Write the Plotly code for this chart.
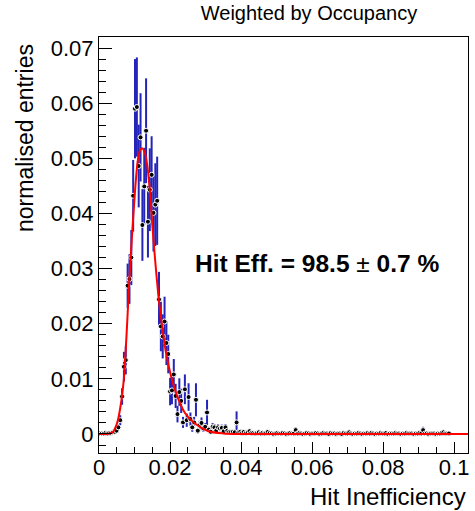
import plotly.graph_objects as go

# ---- data ----
bin_width = 0.00052
n_bins = 200
x_centers = [(k + 0.5) * bin_width for k in range(n_bins)]

values = [
    0.0001, 0.0001, 0.0001, 0.0002, 0.0001, 0.0002, 0.0002, 0.0003, 0.0004, 0.0006,
    0.0012, 0.0025, 0.0068, 0.0122, 0.0134, 0.0269, 0.0281, 0.0320, 0.0432, 0.0590,
    0.0593, 0.0486, 0.0538, 0.0379, 0.0449, 0.0550, 0.0385, 0.0443, 0.0470, 0.0401,
    0.0416, 0.0423, 0.0244, 0.0195, 0.0177, 0.0204, 0.0165, 0.0145, 0.0077, 0.0079,
    0.0108, 0.0069, 0.0036, 0.0076, 0.0060, 0.0021, 0.0081, 0.0025, 0.0067, 0.0027,
    0.0012, 0.0021, 0.0062, 0.0006, 0.0016, 0.0020, 0.0010, 0.0013, 0.0039, 0.0008,
    0.0004, 0.0013, 0.0012, 0.0006, 0.0012, 0.0010, 0.0011, 0.0005, 0.0012, 0.0006,
    0.0004, 0.0004, 0.0004, 0.0003, 0.0021, 0.0003, 0.0004, 0.0002, 0.0004, 0.0002,
    0.0003, 0.0005, 0.0002, 0.0002, 0.0001, 0.0002, 0.0003, 0.0001, 0.0002, 0.0001,
    0.0002, 0.0004, 0.0002, 0.0001, 0.0000, 0.0001, 0.0002, 0.0001, 0.0001, 0.0002,
    0.0001, 0.0000, 0.0001, 0.0002, 0.0001, 0.0001, 0.0007, 0.0001, 0.0002, 0.0001,
    0.0000, 0.0001, 0.0002, 0.0001, 0.0000, 0.0001, 0.0001, 0.0002, 0.0001, 0.0000,
    0.0001, 0.0002, 0.0001, 0.0001, 0.0000, 0.0002, 0.0001, 0.0001, 0.0000, 0.0001,
    0.0001, 0.0000, 0.0002, 0.0001, 0.0001, 0.0003, 0.0001, 0.0000, 0.0001, 0.0001,
    0.0002, 0.0001, 0.0000, 0.0001, 0.0001, 0.0002, 0.0001, 0.0002, 0.0001, 0.0000,
    0.0001, 0.0001, 0.0002, 0.0001, 0.0001, 0.0002, 0.0000, 0.0001, 0.0001, 0.0001,
    0.0002, 0.0001, 0.0001, 0.0000, 0.0001, 0.0001, 0.0002, 0.0001, 0.0001, 0.0001,
    0.0000, 0.0001, 0.0001, 0.0002, 0.0001, 0.0007, 0.0001, 0.0001, 0.0000, 0.0001,
    0.0001, 0.0001, 0.0000, 0.0001, 0.0001, 0.0002, 0.0003, 0.0001, 0.0001, 0.0001,
]

errors = [
    0.0001, 0.0001, 0.0001, 0.0001, 0.0001, 0.0001, 0.0001, 0.0002, 0.0002, 0.0003,
    0.0005, 0.0009, 0.0015, 0.0027, 0.0026, 0.0040, 0.0045, 0.0050, 0.0065, 0.0090,
    0.0090, 0.0075, 0.0080, 0.0065, 0.0070, 0.0095, 0.0065, 0.0075, 0.0070, 0.0070,
    0.0075, 0.0080, 0.0050, 0.0045, 0.0040, 0.0045, 0.0040, 0.0035, 0.0025, 0.0025,
    0.0028, 0.0022, 0.0015, 0.0025, 0.0022, 0.0010, 0.0027, 0.0012, 0.0025, 0.0012,
    0.0008, 0.0010, 0.0030, 0.0005, 0.0008, 0.0010, 0.0006, 0.0007, 0.0023, 0.0005,
    0.0003, 0.0007, 0.0006, 0.0004, 0.0006, 0.0005, 0.0006, 0.0003, 0.0006, 0.0004,
    0.0003, 0.0003, 0.0003, 0.0002, 0.0020, 0.0002, 0.0003, 0.0002, 0.0003, 0.0002,
    0.0002, 0.0003, 0.0002, 0.0002, 0.0001, 0.0002, 0.0002, 0.0001, 0.0002, 0.0001,
    0.0002, 0.0003, 0.0002, 0.0001, 0.0000, 0.0001, 0.0002, 0.0001, 0.0001, 0.0002,
    0.0001, 0.0000, 0.0001, 0.0002, 0.0001, 0.0001, 0.0005, 0.0001, 0.0002, 0.0001,
    0.0000, 0.0001, 0.0002, 0.0001, 0.0000, 0.0001, 0.0001, 0.0002, 0.0001, 0.0000,
    0.0001, 0.0002, 0.0001, 0.0001, 0.0000, 0.0002, 0.0001, 0.0001, 0.0000, 0.0001,
    0.0001, 0.0000, 0.0002, 0.0001, 0.0001, 0.0003, 0.0001, 0.0000, 0.0001, 0.0001,
    0.0002, 0.0001, 0.0000, 0.0001, 0.0001, 0.0002, 0.0001, 0.0002, 0.0001, 0.0000,
    0.0001, 0.0001, 0.0002, 0.0001, 0.0001, 0.0002, 0.0000, 0.0001, 0.0001, 0.0001,
    0.0002, 0.0001, 0.0001, 0.0000, 0.0001, 0.0001, 0.0002, 0.0001, 0.0001, 0.0001,
    0.0000, 0.0001, 0.0001, 0.0002, 0.0001, 0.0006, 0.0001, 0.0001, 0.0000, 0.0001,
    0.0001, 0.0001, 0.0000, 0.0001, 0.0001, 0.0002, 0.0003, 0.0001, 0.0001, 0.0001,
]

fit_x = [0.0, 0.002, 0.003, 0.004, 0.0045, 0.005, 0.0055, 0.006, 0.0064, 0.0070,
         0.0075, 0.0080, 0.0085, 0.0092, 0.0101, 0.0109, 0.0116, 0.0122, 0.0128,
         0.0134, 0.0144, 0.0150, 0.0158, 0.0167, 0.0172, 0.0189, 0.0214, 0.0242,
         0.0270, 0.0308, 0.035, 0.040, 0.050, 0.1039]
fit_y = [0.0, 0.0, 0.0001, 0.0004, 0.0010, 0.0018, 0.0030, 0.0048, 0.0065, 0.0100,
         0.0150, 0.0210, 0.0275, 0.0350, 0.0437, 0.0495, 0.0515, 0.0518, 0.0512,
         0.0495, 0.0437, 0.0380, 0.0316, 0.0252, 0.0225, 0.0146, 0.0080, 0.0038,
         0.0019, 0.0005, 0.0001, 0.0, 0.0, 0.0]

x_ticks = [0, 0.02, 0.04, 0.06, 0.08, 0.1]
x_tick_labels = ["0", "0.02", "0.04", "0.06", "0.08", "0.1"]
y_ticks = [0, 0.01, 0.02, 0.03, 0.04, 0.05, 0.06, 0.07]
y_tick_labels = ["0", "0.01", "0.02", "0.03", "0.04", "0.05", "0.06", "0.07"]

FONT = "Liberation Sans, Arial, Helvetica, sans-serif"

fig = go.Figure()
fig.add_trace(go.Scatter(
    x=x_centers, y=values, mode="markers",
    marker=dict(color="black", size=5, line=dict(color="white", width=1)),
    error_y=dict(type="data", array=errors, color="#2424b8", thickness=2, width=0),
    showlegend=False, hoverinfo="skip",
))
fig.add_trace(go.Scatter(
    x=fit_x, y=fit_y, mode="lines",
    line=dict(color="#ff0000", width=2, shape="spline", smoothing=0.8),
    showlegend=False, hoverinfo="skip",
))

fig.update_layout(
    width=475, height=511,
    margin=dict(l=99, r=7, t=37, b=58, autoexpand=False),
    paper_bgcolor="white", plot_bgcolor="white",
    font=dict(family=FONT, color="black"),
    title=dict(text="Weighted by Occupancy", x=(309 / 475), xanchor="center",
               y=1 - 13 / 511, yanchor="middle", yref="container",
               font=dict(size=20, family=FONT, color="black")),
)
fig.update_xaxes(
    range=[0, 0.1039], tickvals=x_ticks, ticktext=x_tick_labels,
    ticks="inside", ticklen=11, tickwidth=1, tickcolor="black",
    minor=dict(dtick=0.005, tick0=0, ticks="inside", ticklen=6, tickcolor="black", showgrid=False),
    showline=True, linecolor="black", linewidth=1, mirror=True, automargin=False,
    ticklabelstandoff=-5,
    showgrid=False, zeroline=False, tickfont=dict(size=22, family=FONT, color="black"),
)
fig.update_yaxes(
    range=[-0.00345, 0.0720], tickvals=y_ticks, ticktext=y_tick_labels,
    ticks="inside", ticklen=13, tickwidth=1, tickcolor="black",
    minor=dict(dtick=0.002, tick0=0, ticks="inside", ticklen=7, tickcolor="black", showgrid=False),
    showline=True, linecolor="black", linewidth=1, mirror=True, automargin=False,
    showgrid=False, zeroline=False, tickfont=dict(size=22, family=FONT, color="black"),
)

fig.add_annotation(text="Hit Inefficiency", xref="paper", yref="paper", x=1, y=0,
                   xanchor="right", yanchor="top", yshift=-28, showarrow=False,
                   font=dict(size=24, family=FONT, color="black"))
fig.add_annotation(text="normalised entries", xref="paper", yref="paper", x=0, y=1,
                   xanchor="center", yanchor="top", xshift=-74, yshift=-5, textangle=-90,
                   showarrow=False, font=dict(size=23, family=FONT, color="black"))
fig.add_annotation(text="<b>Hit Eff. = 98.5 </b>\u00b1<b> 0.7 %</b>", xref="paper", yref="paper",
                   x=(316.5 - 99) / 369, y=(453 - 263) / 416, xanchor="center", yanchor="middle",
                   showarrow=False, font=dict(size=24.5, family=FONT, color="black"))

fig.write_html("out.html", config={"displayModeBar": False},
               post_script="document.body.style.margin='0px';")
